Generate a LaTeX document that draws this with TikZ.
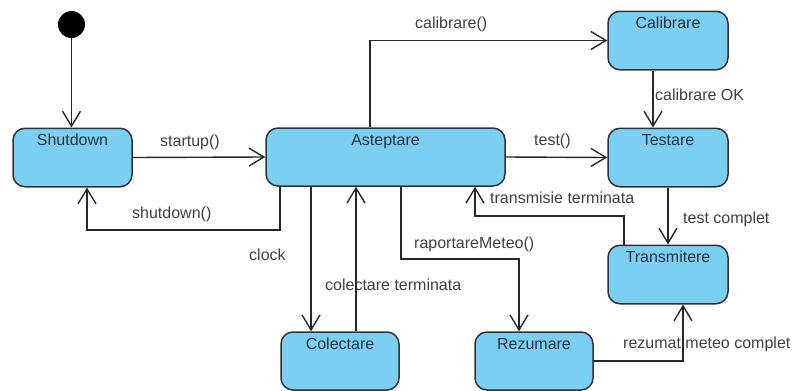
\documentclass[tikz,border=0pt]{standalone}
\usepackage{fontspec}
\setmainfont{Liberation Sans}
\usetikzlibrary{arrows.meta}
\definecolor{stateblue}{RGB}{122,207,243}
\definecolor{boxline}{RGB}{50,50,50}
\definecolor{titlecol}{RGB}{40,50,65}
\definecolor{labelcol}{RGB}{64,64,64}
\definecolor{linecol}{RGB}{40,40,40}
\begin{document}
\begin{tikzpicture}[x=1pt,y=-1pt,
  font=\fontsize{16}{18}\selectfont,
  statebox/.style={draw=boxline, line width=1.5pt, fill=stateblue, rounded corners=12pt,
    inner xsep=0pt, inner ysep=0pt, text height=17.5pt, text depth=41pt, text=titlecol,
    minimum width=119pt},
  lbl/.style={anchor=base west, text=labelcol, inner sep=0pt},
  conn/.style={draw=linecol, line width=1.4pt, -{Straight Barb[length=15pt,width=18pt]}}]
\useasboundingbox (0,0) rectangle (796,391);

% states
\node[fill=black, circle, minimum size=27pt, inner sep=0pt] (init) at (71.5,24.5) {};
\node[statebox] (sd) at (72.5,157.5) {Shutdown};
\node[statebox, minimum width=239pt, text depth=40.5pt] (as) at (385.5,157) {Asteptare};
\node[statebox, minimum width=120pt] (ca) at (668,40.5) {Calibrare};
\node[statebox, minimum width=120pt] (te) at (668,157.5) {Testare};
\node[statebox, minimum width=120pt] (tr) at (668,274.5) {Transmitere};
\node[statebox, minimum width=118pt, text depth=40.5pt] (co) at (340,361) {Colectare};
\node[statebox, minimum width=118pt, text depth=40.5pt] (re) at (534,361) {Rezumare};

% labels
\node[lbl] (l1) at (160,146) {startup()};
\node[lbl] (l2) at (132,218) {shutdown()};
\node[lbl] (l3) at (415,28) {calibrare()};
\node[lbl] (l4) at (655,100) {calibrare OK};
\node[lbl] (l5) at (534,145) {test()};
\node[lbl] (l6) at (490,203) {transmisie terminata};
\node[lbl] (l7) at (683,223) {test complet};
\node[lbl] (l8) at (414,248) {raportareMeteo()};
\node[lbl] (l9) at (249,260) {clock};
\node[lbl] (l10) at (325,290) {colectare terminata};
\node[lbl] (l11) at (623,348) {rezumat meteo complet};

% connectors
\draw[conn] (init.south) -- (init.south |- sd.north);
\draw[conn] (sd.east) -- (as.west);
\draw[conn] (as.south -| 280,0) -- (280,230) -| (sd.south -| 87,0);
\draw[conn] (as.north -| 370,0) |- (ca.west);
\draw[conn] (ca.south -| 653,0) -- (te.north -| 653,0);
\draw[conn] (as.east) -- (te.west);
\draw[conn] (te.south) -- (tr.north);
\draw[conn] (tr.north -| 624,0) |- (475,216) -- (as.south -| 475,0);
\draw[conn] (as.south -| 401,0) |- (519,259) -- (re.north -| 519,0);
\draw[conn] (re.east) -| (tr.south -| 683,0);
\draw[conn] (as.south -| 311,0) -- (co.north -| 311,0);
\draw[conn] (co.north -| 356,0) -- (as.south -| 356,0);
\end{tikzpicture}
\end{document}
